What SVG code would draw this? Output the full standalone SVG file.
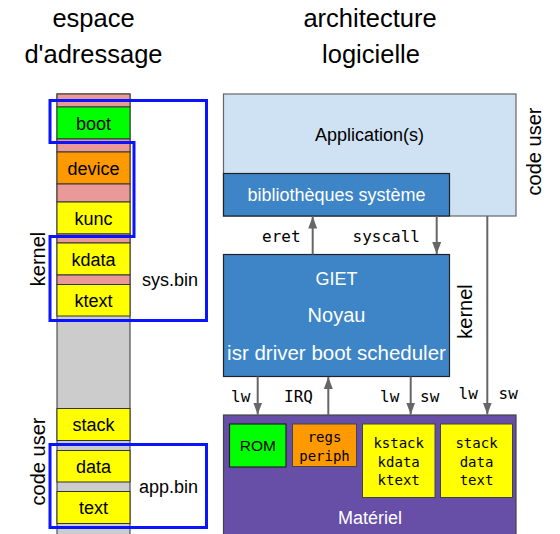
<svg xmlns="http://www.w3.org/2000/svg" width="560" height="534" viewBox="0 0 560 534">
<defs>
<marker id="ah" viewBox="0 0 12 9" refX="12" refY="4.5" markerWidth="6" markerHeight="4.5" orient="auto" markerUnits="strokeWidth">
<path d="M0,0 L12,4.5 L0,9 z" fill="#666666"/>
</marker>
<style>
text{font-family:"Liberation Sans",Arial,sans-serif;fill:#000}
.t{font-size:25.5px;text-anchor:middle}
.m{font-size:18px;text-anchor:middle}
.w{fill:#fff;text-anchor:middle}
.mono{font-family:"DejaVu Sans Mono",monospace;font-size:16px}
.mono14{font-family:"DejaVu Sans Mono",monospace;font-size:14px;text-anchor:middle}
.band{stroke:#333;stroke-width:1}
.pk{fill:#ea9999}.gr{fill:#cccccc}.ye{fill:#ffff00}.gn{fill:#00ff00}.or{fill:#ff9900}
.blue{fill:none;stroke:#0a14ff;stroke-width:3}
.arr{stroke:#666666;stroke-width:2;fill:none;marker-end:url(#ah)}
.rot{font-size:20px;text-anchor:middle}
</style>
</defs>
<g id="titles">
<text class="t" x="93.5" y="27">espace</text>
<text class="t" x="93.5" y="63">d'adressage</text>
<text class="t" x="370" y="27">architecture</text>
<text class="t" x="371" y="63">logicielle</text>
</g>
<g id="memory">
<rect class="band gr" x="57" y="94" width="73" height="445"/>
<rect class="band pk" x="57" y="94" width="73" height="13"/>
<rect class="band gn" x="57" y="107" width="73" height="32"/>
<rect class="band pk" x="57" y="139" width="73" height="13"/>
<rect class="band or" x="57" y="152" width="73" height="32"/>
<rect class="band pk" x="57" y="184" width="73" height="18"/>
<rect class="band ye" x="57" y="202" width="73" height="32"/>
<rect class="band pk" x="57" y="234" width="73" height="9"/>
<rect class="band ye" x="57" y="243" width="73" height="32"/>
<rect class="band pk" x="57" y="275" width="73" height="9.5"/>
<rect class="band ye" x="57" y="284.5" width="73" height="31.5"/>
<rect class="band ye" x="57" y="408.5" width="73" height="32"/>
<rect class="band ye" x="57" y="450.5" width="73" height="31.5"/>
<rect class="band ye" x="57" y="491.5" width="73" height="32"/>
<text class="m" x="93.5" y="130">boot</text>
<text class="m" x="93.5" y="175">device</text>
<text class="m" x="93.5" y="225">kunc</text>
<text class="m" x="93.5" y="266">kdata</text>
<text class="m" x="93.5" y="307">ktext</text>
<text class="m" x="93.5" y="431">stack</text>
<text class="m" x="93.5" y="473">data</text>
<text class="m" x="93.5" y="514">text</text>
</g>
<g id="sysbin">
<path class="blue" d="M50,100.5 H206.5 V320.5 H50 V236.5 H134 V142.5 H50 Z"/>
<text class="m" x="170" y="286">sys.bin</text>
</g>
<g id="appbin">
<rect class="blue" x="50" y="444.5" width="156.5" height="83"/>
<text class="m" x="168.5" y="493">app.bin</text>
</g>
<g id="side-labels">
<text class="rot" transform="translate(45,259) rotate(-90)">kernel</text>
<text class="rot" transform="translate(45,461.5) rotate(-90)">code user</text>
<text class="rot" transform="translate(540.5,151.5) rotate(-90)">code user</text>
<text class="rot" transform="translate(471.5,311.5) rotate(-90)">kernel</text>
</g>
<g id="application">
<rect x="223.5" y="94" width="292.5" height="122" fill="#cfe2f3" stroke="#666" stroke-width="1.2"/>
<text class="m" x="369.5" y="141">Application(s)</text>
</g>
<g id="bibliotheques">
<rect x="223.5" y="173.5" width="226" height="42.5" fill="#3d85c6" stroke="#222" stroke-width="1.2"/>
<text class="m w" x="336.5" y="201">bibliothèques système</text>
</g>
<g id="giet">
<rect x="223.5" y="254.5" width="226" height="122" fill="#3d85c6" stroke="#222" stroke-width="1.2"/>
<text class="w" style="font-size:18px" x="336.5" y="285">GIET</text>
<text class="w" style="font-size:20px" x="336.5" y="322">Noyau</text>
<text class="w" style="font-size:20.5px" x="336.5" y="360">isr driver boot scheduler</text>
</g>
<g id="materiel">
<rect x="223.5" y="415" width="292.5" height="130" fill="#674ea7" stroke="#444" stroke-width="1.2"/>
<text class="m w" x="370" y="524">Matériel</text>
</g>
<g id="rom">
<rect x="229.5" y="424" width="56.5" height="43" fill="#00ff00" stroke="#222" stroke-width="1.2"/>
<text style="font-size:15.5px;text-anchor:middle" x="257.8" y="451">ROM</text>
</g>
<g id="regs">
<rect x="292.5" y="424" width="64" height="42.5" fill="#ff9900" stroke="#444" stroke-width="1"/>
<text class="mono14" x="324.5" y="442">regs</text>
<text class="mono14" x="324.5" y="461">periph</text>
</g>
<g id="kmem">
<rect x="362.5" y="424" width="72.5" height="73.5" fill="#ffff00" stroke="#444" stroke-width="1"/>
<text class="mono14" x="398.7" y="448">kstack</text>
<text class="mono14" x="398.7" y="467">kdata</text>
<text class="mono14" x="398.7" y="485">ktext</text>
</g>
<g id="umem">
<rect x="440.5" y="424" width="72" height="73.5" fill="#ffff00" stroke="#444" stroke-width="1"/>
<text class="mono14" x="476.5" y="448">stack</text>
<text class="mono14" x="476.5" y="467">data</text>
<text class="mono14" x="476.5" y="485">text</text>
</g>
<g id="connectors">
<line class="arr" x1="312.7" y1="254.5" x2="312.7" y2="216.5"/>
<line class="arr" x1="436.7" y1="216" x2="436.7" y2="254"/>
<line class="arr" x1="487.3" y1="216" x2="487.3" y2="414.5"/>
<line class="arr" x1="257.7" y1="376.5" x2="257.7" y2="414.5"/>
<line class="arr" x1="328.3" y1="415" x2="328.3" y2="377"/>
<line class="arr" x1="410.7" y1="376.5" x2="410.7" y2="414.5"/>
<text class="mono" x="262" y="242">eret</text>
<text class="mono" x="352.5" y="242">syscall</text>
<text class="mono" x="231" y="402">lw</text>
<text class="mono" x="284" y="402">IRQ</text>
<text class="mono" x="380" y="402">lw</text>
<text class="mono" x="420" y="402">sw</text>
<text class="mono" x="458.5" y="399">lw</text>
<text class="mono" x="498.5" y="399">sw</text>
</g>
</svg>
